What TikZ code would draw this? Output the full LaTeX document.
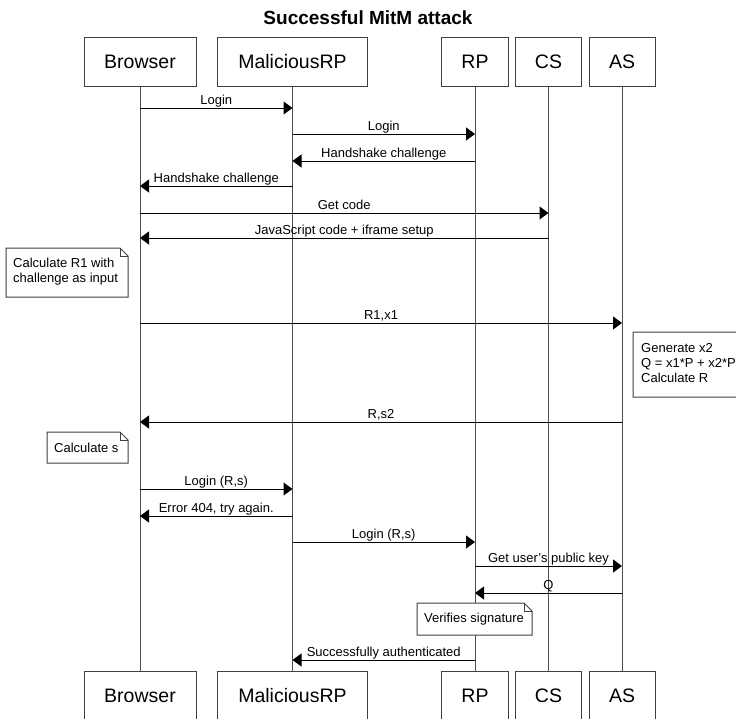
\documentclass[tikz,border=0pt]{standalone}
\usepackage{fontspec}
\setmainfont{Liberation Sans}
\usetikzlibrary{arrows.meta}

% note with a folded top-right corner: x1, y1, x2, y2
\newcommand{\foldnote}[4]{%
  \draw[noteline] (#1,#2) -- (#3-8,#2) -- (#3,#2+8) -- (#3,#4) -- (#1,#4) -- cycle;
  \draw[noteline, fill=none] (#3-8,#2) -- (#3-8,#2+8) -- (#3,#2+8);
}

\begin{document}
\begin{tikzpicture}[x=1pt, y=-1pt,
  actor/.style={draw=black!75, line width=1pt, minimum height=49pt,
    inner sep=0pt, font=\fontsize{19.5}{22}\selectfont},
  life/.style={draw=black!70, line width=1pt},
  msg/.style={draw=black, line width=1pt, -{Triangle[length=9pt,width=13pt]}},
  lbl/.style={font=\fontsize{13}{15}\selectfont, inner sep=0pt, anchor=base, yshift=4pt},
  notetext/.style={font=\fontsize{13}{15}\selectfont, align=left, inner sep=0pt, anchor=west},
  noteline/.style={draw=black!75, line width=1pt, fill=white},
]
\useasboundingbox (0,0) rectangle (736,718);
\fill[white] (0,0) rectangle (736,718);
\clip (0,0) rectangle (736,718);

% title
\node[font=\bfseries\fontsize{19}{22}\selectfont] (title) at (368,18) {Successful MitM attack};

% participants, top row
\node[actor, minimum width=112pt] (brT) at (140,61.5) {Browser};
\node[actor, minimum width=150pt] (mrT) at (292.5,61.5) {MaliciousRP};
\node[actor, minimum width=67pt]  (rpT) at (475,61.5) {RP};
\node[actor, minimum width=66pt]  (csT) at (548.5,61.5) {CS};
\node[actor, minimum width=66pt]  (asT) at (622,61.5) {AS};

% participants, bottom row
\node[actor, minimum width=112pt] (brB) at (140,695.5) {Browser};
\node[actor, minimum width=150pt] (mrB) at (292.5,695.5) {MaliciousRP};
\node[actor, minimum width=67pt]  (rpB) at (475,695.5) {RP};
\node[actor, minimum width=66pt]  (csB) at (548.5,695.5) {CS};
\node[actor, minimum width=66pt]  (asB) at (622,695.5) {AS};

% lifelines
\draw[life] (brT.south) -- (brB.north);
\draw[life] (mrT.south) -- (mrB.north);
\draw[life] (rpT.south) -- (rpB.north);
\draw[life] (csT.south) -- (csB.north);
\draw[life] (asT.south) -- (asB.north);

% messages
\draw[msg] (brT |- 0,108) -- (mrT |- 0,108) node[lbl, midway] (m1) {Login};
\draw[msg] (mrT |- 0,134) -- (rpT |- 0,134) node[lbl, midway] (m2) {Login};
\draw[msg] (rpT |- 0,161) -- (mrT |- 0,161) node[lbl, midway] (m3) {Handshake challenge};
\draw[msg] (mrT |- 0,186) -- (brT |- 0,186) node[lbl, midway] (m4) {Handshake challenge};
\draw[msg] (brT |- 0,213) -- (csT |- 0,213) node[lbl, midway] (m5) {Get code};
\draw[msg] (csT |- 0,238) -- (brT |- 0,238) node[lbl, midway] (m6) {JavaScript code + iframe setup};
\draw[msg] (brT |- 0,323) -- (asT |- 0,323) node[lbl, midway] (m7) {R1,x1};
\draw[msg] (asT |- 0,422) -- (brT |- 0,422) node[lbl, midway] (m8) {R,s2};
\draw[msg] (brT |- 0,489) -- (mrT |- 0,489) node[lbl, midway] (m9) {Login (R,s)};
\draw[msg] (mrT |- 0,516) -- (brT |- 0,516) node[lbl, midway] (m10) {Error 404, try again.};
\draw[msg] (mrT |- 0,542) -- (rpT |- 0,542) node[lbl, midway] (m11) {Login (R,s)};
\draw[msg] (rpT |- 0,566) -- (asT |- 0,566) node[lbl, midway] (m12) {Get user's public key};
\draw[msg] (asT |- 0,593) -- (rpT |- 0,593) node[lbl, midway] (m13) {Q};
\draw[msg] (rpT |- 0,660) -- (mrT |- 0,660) node[lbl, midway] (m14) {Successfully authenticated};

% notes
\foldnote{6}{248}{128}{297}
\node[notetext] (n1) at (13,271.5) {Calculate R1 with\\challenge as input};

\foldnote{633}{332}{746}{397}
\node[notetext] (n2) at (641,363.5) {Generate x2\\Q = x1*P + x2*P\\Calculate R};

\foldnote{47}{432}{128}{463}
\node[notetext] (n3) at (54,447.5) {Calculate s};

\foldnote{417}{603}{532}{635}
\node[notetext] (n4) at (424,619) {Verifies signature};
\end{tikzpicture}
\end{document}
